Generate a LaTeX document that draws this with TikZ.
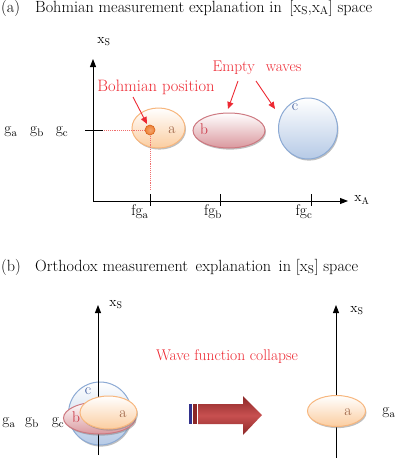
\documentclass[tikz,border=0pt]{standalone}
\usetikzlibrary{shapes.geometric,shadows,arrows.meta}
\definecolor{redtxt}{RGB}{237,40,50}
\definecolor{dotline}{RGB}{240,110,110}
\definecolor{orangeedge}{RGB}{247,182,125}
\definecolor{orangefill}{RGB}{251,205,160}
\definecolor{pinkedge}{RGB}{205,120,128}
\definecolor{pinkfill}{RGB}{218,152,158}
\definecolor{blueedge}{RGB}{140,170,212}
\definecolor{bluefill}{RGB}{182,202,230}
\definecolor{lbla}{RGB}{150,90,60}
\definecolor{lblb}{RGB}{200,45,60}
\definecolor{lblc}{RGB}{55,85,155}
\definecolor{dotfill}{RGB}{238,128,50}
\definecolor{dotedge}{RGB}{215,100,30}
\definecolor{arrdark}{RGB}{140,40,40}
\definecolor{arrlight}{RGB}{200,80,80}
\definecolor{stripeblue}{RGB}{50,50,140}
\begin{document}
\begin{tikzpicture}[x=1pt,y=-1pt,
  every node/.style={font=\fontsize{15.5}{18}\selectfont, inner sep=0pt},
  small/.style={font=\fontsize{14}{16}\selectfont},
  titlefont/.style={font=\fontsize{16.2}{18}\selectfont},
  axisline/.style={line width=0.9pt, -{Triangle[length=8pt,width=6pt]}},
  blob/.style={ellipse, line width=1pt, drop shadow={shadow xshift=1pt, shadow yshift=-1.6pt, fill=black!50}},
  blobA/.style={blob, draw=orangeedge, top color=white, bottom color=orangefill},
  blobB/.style={blob, draw=pinkedge, top color=white, bottom color=pinkfill},
  blobC/.style={blob, draw=blueedge, top color=white, bottom color=bluefill},
  redlabel/.style={text=redtxt},
  redarrow/.style={draw=redtxt, line width=0.9pt, -{Triangle[length=7pt,width=6pt]}},
  dotted red/.style={draw=dotline, line width=0.9pt, densely dotted},
  tickline/.style={line width=0.9pt}]
\useasboundingbox (0,0) rectangle (399,458);

% ---------------- (a) ----------------
\node[anchor=west, titlefont] (ta) at (1,8) {(a)};
\node[anchor=west, titlefont] (titlea) at (35,8) {Bohmian measurement explanation in\, [x\textsubscript{S},x\textsubscript{A}] space};

\coordinate (o1) at (93,201);
\coordinate (ytop1) at (93,59);
\coordinate (xend1) at (348,201);
\draw[axisline] (o1) -- (ytop1);
\draw[axisline] (o1) -- (xend1);
\node[small] (xs1) at (104,42) {x\textsubscript{S}};
\node[small] (xa1) at (362,200) {x\textsubscript{A}};

% ticks
\coordinate (ytl) at (85,130); \coordinate (ytr) at (103,130);
\draw[tickline] (ytl) -- (ytr);
\foreach \n/\x in {ta1/150,tb1/220,tc1/311}{
  \coordinate (\n u) at (\x,194); \coordinate (\n d) at (\x,206);
  \draw[tickline] (\n u) -- (\n d);
}
\node (fga) at (140,212) {fg\textsubscript{a}};
\node (fgb) at (213,212) {fg\textsubscript{b}};
\node (fgc) at (304,212) {fg\textsubscript{c}};
\node (ga1) at (11,132) {g\textsubscript{a}};
\node (gb1) at (37,132) {g\textsubscript{b}};
\node (gc1) at (62,132) {g\textsubscript{c}};

% blobs
\node[blobA, minimum width=53pt, minimum height=40pt] (ea) at (158.5,128) {};
\node[blobB, minimum width=72pt, minimum height=35pt] (eb) at (229,130.5) {};
\node[blobC, minimum width=59pt, minimum height=61pt] (ec) at (308,128.5) {};
\node[text=lbla] (la) at (172,130) {a};
\node[text=lblb] (lb) at (204,129) {b};
\node[text=lblc] (lc) at (295,107) {c};

% dotted guides
\coordinate (dh1) at (104,130); \coordinate (dh2) at (147,130);
\coordinate (dv1) at (150,134); \coordinate (dv2) at (150,190);
\draw[dotted red] (dh1) -- (dh2);
\draw[dotted red] (dv1) -- (dv2);

% Bohmian point
\node[circle, minimum size=10pt, draw=dotedge, line width=0.6pt, inner color=dotfill!70!white, outer color=dotfill] (bp) at (150,130) {};

% red labels and arrows
\node[redlabel, font=\fontsize{16.5}{18}\selectfont] (bpos) at (156,87) {Bohmian position};
\node[redlabel] (empty) at (257,68) {Empty\hspace{11pt}waves};
\coordinate (a1s) at (133,97); \coordinate (a1e) at (147,124);
\coordinate (a2s) at (238,81); \coordinate (a2e) at (228,109);
\coordinate (a3s) at (256,81); \coordinate (a3e) at (275,109);
\draw[redarrow] (a1s) -- (a1e);
\draw[redarrow] (a2s) -- (a2e);
\draw[redarrow] (a3s) -- (a3e);

% ---------------- (b) ----------------
\node[anchor=west, titlefont] (tb) at (1,267) {(b)};
\node[anchor=west, titlefont] (titleb) at (35,267) {Orthodox measurement\, explanation\, in [x\textsubscript{S}] space};

% left group
\node[blobC, minimum width=63pt, minimum height=63pt] (ec2) at (100,413.5) {};
\coordinate (ob) at (98,455);
\coordinate (ytop2) at (98,305);
\draw[axisline] (ob) -- (ytop2);
\node[blobB, minimum width=72pt, minimum height=32pt] (eb2) at (99.5,418) {};
\node[blobA, minimum width=57pt, minimum height=33pt] (ea2) at (108.5,412.5) {};
\node[text=lblc] (lc2) at (88,391) {c};
\node[text=lblb] (lb2) at (76,417) {b};
\node[text=lbla] (la2) at (123,414) {a};
\node[small] (xs2) at (116,305) {x\textsubscript{S}};
\node (ga2) at (9,423) {g\textsubscript{a}};
\node (gb2) at (32,423) {g\textsubscript{b}};
\node (gc2) at (58,423) {g\textsubscript{c}};

% collapse arrow
\node[redlabel] (wfc) at (227,357) {Wave function collapse};
\fill[stripeblue] (189,404) rectangle (192,424);
\fill[arrdark] (193,404) rectangle (196.5,424);
\shade[top color=arrdark, bottom color=arrdark, middle color=arrlight]
  (198,404) -- (243,404) -- (243,396) -- (262,415) -- (243,435) -- (243,424) -- (198,424) -- cycle;

% right group
\coordinate (or) at (336,460);
\coordinate (ytop3) at (336,305);
\draw[axisline] (or) -- (ytop3);
\node[blobA, minimum width=58pt, minimum height=31pt] (ea3) at (336.5,411) {};
\node[text=lbla] (la3) at (348,412) {a};
\node[small] (xs3) at (357,311) {x\textsubscript{S}};
\node (ga3) at (389,413) {g\textsubscript{a}};
\end{tikzpicture}
\end{document}
